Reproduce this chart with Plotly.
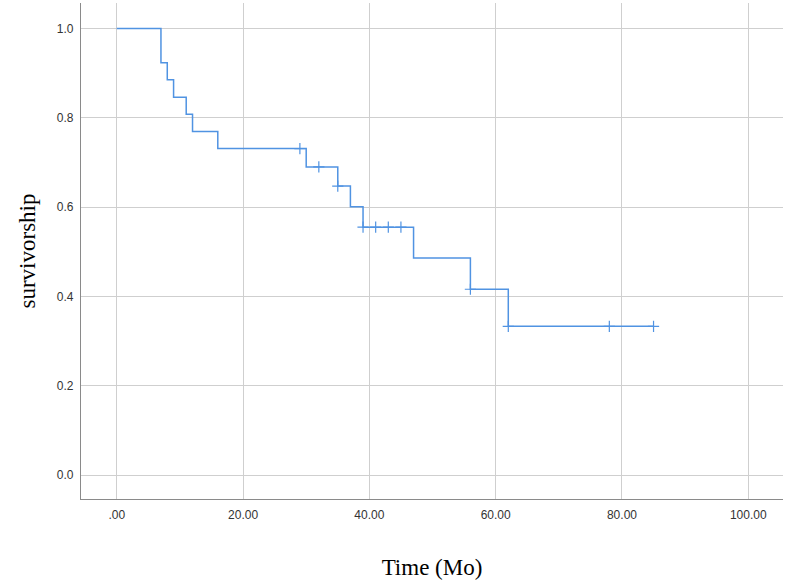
import plotly.graph_objects as go

# Kaplan-Meier step points (time in months, survival)
step_time = [0, 7, 8, 9, 11, 12, 16, 30, 35, 37, 39, 47, 56, 62, 85]
step_surv = [1.0, 0.923, 0.885, 0.846, 0.808, 0.769, 0.731, 0.690, 0.647,
             0.601, 0.555, 0.486, 0.416, 0.333, 0.333]

# censored observations
cens_time = [29, 32, 35, 39, 41, 43, 45, 56, 62, 78, 85]
cens_surv = [0.731, 0.690, 0.647, 0.555, 0.555, 0.555, 0.555, 0.416, 0.333, 0.333, 0.333]

x_ticks = [0, 20, 40, 60, 80, 100]
x_labels = [".00", "20.00", "40.00", "60.00", "80.00", "100.00"]
y_ticks = [0.0, 0.2, 0.4, 0.6, 0.8, 1.0]

blue = "#5093e2"

fig = go.Figure()
fig.add_trace(go.Scatter(
    x=step_time, y=step_surv, mode="lines", line_shape="hv",
    line=dict(color=blue, width=1.5), showlegend=False,
))
fig.add_trace(go.Scatter(
    x=cens_time, y=cens_surv, mode="markers",
    marker=dict(symbol="cross-thin", size=8, line=dict(color=blue, width=1.2)),
    showlegend=False,
))

tick_font = dict(family="Liberation Sans, Arial", size=12, color="#333333")
title_font = dict(family="Liberation Serif, Times New Roman", size=23, color="#000000")

fig.update_layout(
    width=791, height=586,
    margin=dict(l=81, r=8, t=3, b=87),
    plot_bgcolor="white", paper_bgcolor="white",
)
fig.update_xaxes(
    range=[-5.66, 105.5], tickvals=x_ticks, ticktext=x_labels,
    showgrid=True, gridcolor="#cfcfcf", gridwidth=1.3,
    showline=True, linecolor="#8a8a8a", linewidth=1.3,
    zeroline=False, ticks="", tickfont=tick_font, automargin=False,
    ticklabelstandoff=4,
    title=dict(text="Time (Mo)", font=title_font, standoff=38),
)
fig.update_yaxes(
    range=[-0.0537, 1.057], tickvals=y_ticks, tickformat=".1f",
    showgrid=True, gridcolor="#cfcfcf", gridwidth=1.3,
    showline=True, linecolor="#8a8a8a", linewidth=1.3,
    zeroline=False, ticks="", tickfont=tick_font, ticklabelstandoff=4,
    automargin=False,
    title=dict(text="survivorship", font=title_font, standoff=14),
)

# drop the page's default body margin so the figure sits at the window corner
fig.write_html("out.html", config={"displayModeBar": False},
               post_script="document.body.style.margin='0';")
